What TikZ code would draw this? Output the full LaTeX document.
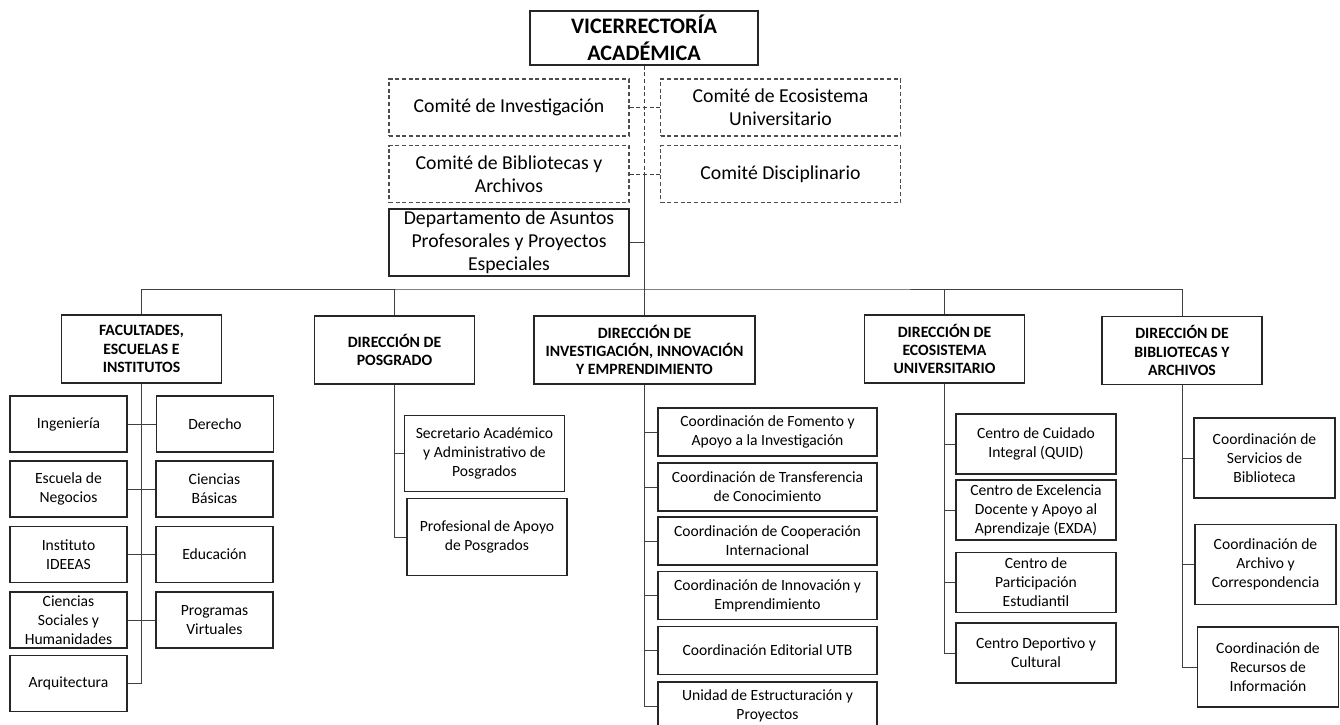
\documentclass[tikz,border=0pt]{standalone}
\usepackage{fontspec}
\setmainfont{Carlito}
\usepackage{tikz}
\usetikzlibrary{positioning}
\tikzstyle{block}=[draw=black!85,line width=0.8pt,rectangle,inner sep=1pt,align=center]
\tikzstyle{vrbox}=[block,minimum width=171pt,minimum height=40.5pt,font=\fontsize{16.6}{20.25}\selectfont\bfseries]
\tikzstyle{comitebox}=[block,densely dashed,draw=black!70,minimum width=180pt,minimum height=42.75pt,font=\fontsize{14.8}{17.4}\selectfont]
\tikzstyle{headbox}=[block,minimum width=120pt,minimum height=51pt,font=\fontsize{11.8}{13.7}\selectfont\bfseries]
\tikzstyle{facbox}=[block,minimum width=87.75pt,minimum height=42pt]
\tikzstyle{posbox}=[block,minimum width=120pt,minimum height=57.5pt]
\tikzstyle{invbox}=[block,minimum width=164.25pt,minimum height=36pt]
\tikzstyle{ecobox}=[block,minimum width=120pt,minimum height=45pt]
\tikzstyle{bibbox}=[block,minimum width=105.75pt,minimum height=60pt]
\tikzstyle{conn}=[draw=black!75,line width=0.7pt]

\begin{document}
\begin{tikzpicture}[x=0.75pt,y=-0.75pt,every node/.style={font=\fontsize{11.7}{14.25}\selectfont}]
  \useasboundingbox (0,0) rectangle (1340,725);
  % upper part
  \node[vrbox] (vr) at (644,38) {VICERRECTORÍA\\ACADÉMICA};
  \node[comitebox] (cinv) at (509,107.5) {Comité de Investigación};
  \node[comitebox] (ceco) at (780.5,107.5) {Comité de Ecosistema\\Universitario};
  \node[comitebox] (cbib) at (509,174) {Comité de Bibliotecas y\\Archivos};
  \node[comitebox] (cdis) at (780.5,174) {Comité Disciplinario};
  \node[comitebox,solid,draw=black!85,minimum height=50.25pt] (dept) at (509,242.5) {Departamento de Asuntos\\Profesorales y Proyectos\\Especiales};
  \coordinate (bus) at (644,289);
  \draw[conn,densely dashed] (vr.south) -- (vr.south |- cdis.west);
  \draw[conn] (vr.south |- cdis.west) -- (bus);
  \draw[conn,densely dashed] (cinv.east) -- (ceco.west);
  \draw[conn,densely dashed] (cbib.east) -- (cdis.west);
  \draw[conn] (dept.east) -- (dept.east -| bus);

  % direcciones
  \node[headbox] (fac) at (141.5,349) {FACULTADES,\\ESCUELAS E\\INSTITUTOS};
  \node[headbox] (pos) at (394.5,350) {DIRECCIÓN DE\\POSGRADO};
  \node[headbox,minimum width=165.75pt] (inv) at (644.5,350) {DIRECCIÓN DE\\INVESTIGACIÓN, INNOVACIÓN\\Y EMPRENDIMIENTO};
  \node[headbox] (eco) at (944.5,349) {DIRECCIÓN DE\\ECOSISTEMA\\UNIVERSITARIO};
  \node[headbox] (bib) at (1182,350.5) {DIRECCIÓN DE\\BIBLIOTECAS Y\\ARCHIVOS};
  \draw[conn] (fac.north) |- (bus) -| (bib.north);
  \draw[conn] (pos.north) -- (pos.north |- bus);
  \draw[conn] (inv.north) -- (inv.north |- bus);
  \draw[conn] (eco.north) -- (eco.north |- bus);

  % facultades
  \node[facbox] (ing) at (68.5,424) {Ingeniería};
  \node[facbox] (esc) at (68.5,489) {Escuela de\\Negocios};
  \node[facbox] (ins) at (68.5,554.5) {Instituto\\IDEEAS};
  \node[facbox] (soc) at (68.5,620) {Ciencias\\Sociales y\\Humanidades};
  \node[facbox] (arq) at (68.5,683.5) {Arquitectura};
  \node[facbox] (der) at (215,424) {Derecho};
  \node[facbox] (cba) at (214.5,489) {Ciencias\\Básicas};
  \node[facbox] (edu) at (214.5,554.5) {Educación};
  \node[facbox] (vir) at (214.5,620) {Programas\\Virtuales};
  \draw[conn] (fac.south) |- (arq.east);
  \draw[conn] (ing.east) -- (der.west);
  \draw[conn] (esc.east) -- (cba.west);
  \draw[conn] (ins.east) -- (edu.west);
  \draw[conn] (soc.east) -- (vir.west);

  % posgrado
  \node[posbox] (sec) at (484.5,453.5) {Secretario Académico\\y Administrativo de\\Posgrados};
  \node[posbox] (prof) at (487,537) {Profesional de Apoyo\\de Posgrados};
  \draw[conn] (pos.south) |- (prof.west);
  \draw[conn] (sec.west) -- (sec.west -| pos.south);

  % investigacion
  \node[invbox] (fom) at (767.5,432) {Coordinación de Fomento y\\Apoyo a la Investigación};
  \node[invbox] (tra) at (767.5,487) {Coordinación de Transferencia\\de Conocimiento};
  \node[invbox] (coo) at (767.5,541) {Coordinación de Cooperación\\Internacional};
  \node[invbox] (inn) at (767.5,595.5) {Coordinación de Innovación y\\Emprendimiento};
  \node[invbox] (edi) at (767.5,650.5) {Coordinación Editorial UTB};
  \node[invbox] (uni) at (767.5,706) {Unidad de Estructuración y\\Proyectos};
  \draw[conn] (inv.south) |- (uni.west);
  \draw[conn] (fom.west) -- (fom.west -| inv.south);
  \draw[conn] (tra.west) -- (tra.west -| inv.south);
  \draw[conn] (coo.west) -- (coo.west -| inv.south);
  \draw[conn] (inn.west) -- (inn.west -| inv.south);
  \draw[conn] (edi.west) -- (edi.west -| inv.south);

  % ecosistema
  \node[ecobox] (qui) at (1036,444) {Centro de Cuidado\\Integral (QUID)};
  \node[ecobox] (exd) at (1036,510) {Centro de Excelencia\\Docente y Apoyo al\\Aprendizaje (EXDA)};
  \node[ecobox] (par) at (1036,582.5) {Centro de\\Participación\\Estudiantil};
  \node[ecobox] (dep) at (1036,653) {Centro Deportivo y\\Cultural};
  \draw[conn] (eco.south) |- (dep.west);
  \draw[conn] (qui.west) -- (qui.west -| eco.south);
  \draw[conn] (exd.west) -- (exd.west -| eco.south);
  \draw[conn] (par.west) -- (par.west -| eco.south);

  % bibliotecas
  \node[bibbox] (ser) at (1264.5,458) {Coordinación de\\Servicios de\\Biblioteca};
  \node[bibbox] (arc) at (1265.5,564.5) {Coordinación de\\Archivo y\\Correspondencia};
  \node[bibbox] (rec) at (1268,667) {Coordinación de\\Recursos de\\Información};
  \draw[conn] (bib.south) |- (rec.west);
  \draw[conn] (ser.west) -- (ser.west -| bib.south);
  \draw[conn] (arc.west) -- (arc.west -| bib.south);
\end{tikzpicture}
\end{document}
